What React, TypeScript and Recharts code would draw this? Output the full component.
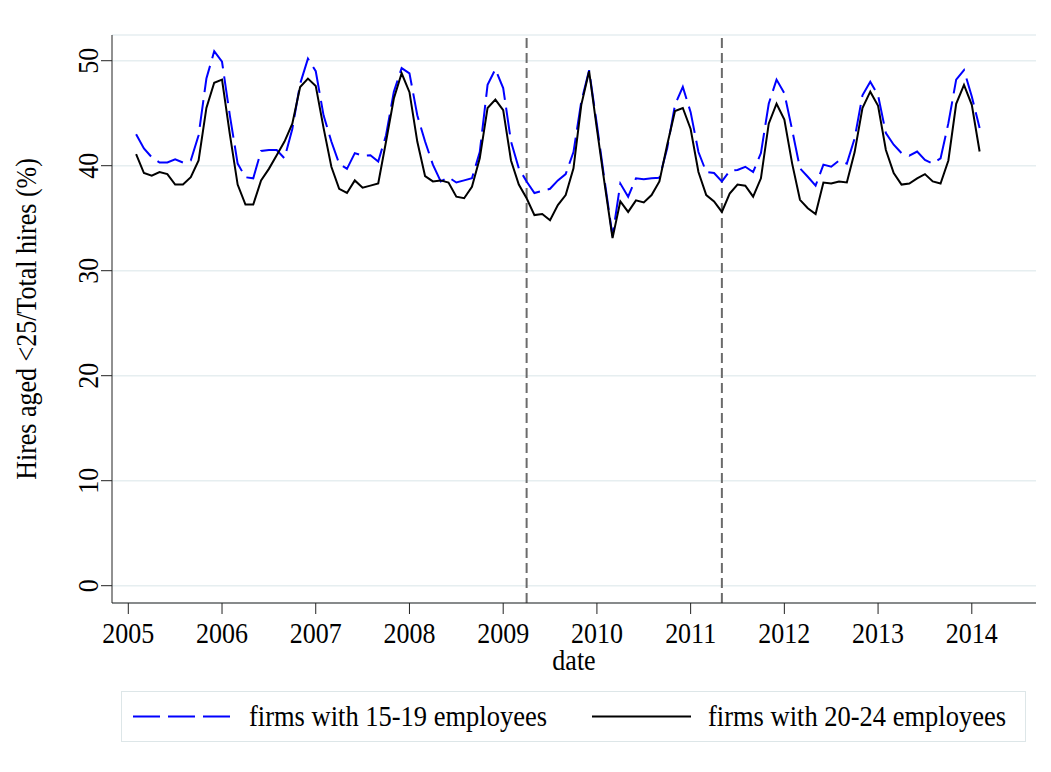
import { LineChart, Line, XAxis, YAxis, CartesianGrid, ReferenceLine, Label } from 'recharts'

// months counted from 2005m1 (= 0); first observation is 2005m2
const firstMonth = 1

// hires aged <25 as % of total hires, monthly 2005m2 - 2014m2
const firms15to19 = [
  43.0, 41.65, 40.8, 40.3, 40.3, 40.6, 40.3, 40.5, 42.9, 48.3, 50.9,
  49.9, 44.8, 40.2, 38.9, 38.8, 41.4, 41.5, 41.5, 40.7, 43.5, 47.8, 50.2,
  49.0, 44.8, 42.3, 40.2, 39.7, 41.2, 40.95, 41.0, 40.4, 42.9, 47.05, 49.3,
  48.8, 44.8, 42.3, 40.1, 38.5, 38.9, 38.4, 38.6, 38.8, 41.3, 47.7, 49.2,
  47.4, 42.3, 39.75, 38.5, 37.4, 37.6, 37.8, 38.6, 39.2, 41.3, 46.1, 49.1,
  43.9, 38.5, 33.3, 38.3, 37.05, 38.8, 38.7, 38.8, 38.85, 41.65, 45.8, 47.5,
  45.1, 41.3, 39.4, 39.3, 38.5, 39.5, 39.6, 39.9, 39.4, 41.2, 45.9, 48.2,
  46.9, 43.4, 39.75, 38.95, 38.1, 40.1, 39.9, 40.5, 40.2, 42.6, 46.7, 48.0,
  46.7, 43.1, 42.0, 41.2, 40.95, 41.35, 40.55, 40.2, 40.7, 44.05, 48.2, 49.1,
  46.6, 43.6,
]

const firms20to24 = [
  41.1, 39.3, 39.05, 39.4, 39.2, 38.2, 38.2, 38.9, 40.5, 45.5, 47.9,
  48.2, 43.0, 38.2, 36.3, 36.3, 38.6, 39.7, 41.0, 42.3, 44.0, 47.5, 48.3,
  47.6, 43.6, 39.9, 37.8, 37.4, 38.6, 37.9, 38.1, 38.3, 42.3, 46.4, 48.8,
  47.0, 42.3, 39.0, 38.5, 38.6, 38.4, 37.05, 36.9, 38.0, 40.7, 45.5, 46.3,
  45.3, 40.5, 38.2, 36.9, 35.3, 35.4, 34.8, 36.25, 37.2, 39.75, 45.8, 49.0,
  43.5, 38.2, 33.1, 36.6, 35.6, 36.7, 36.5, 37.2, 38.5, 42.0, 45.2, 45.5,
  43.5, 39.4, 37.2, 36.6, 35.6, 37.35, 38.2, 38.1, 37.05, 38.8, 44.0, 45.9,
  44.4, 40.2, 36.75, 35.95, 35.4, 38.4, 38.3, 38.5, 38.4, 41.3, 45.5, 47.05,
  45.7, 41.5, 39.3, 38.2, 38.3, 38.8, 39.2, 38.5, 38.3, 40.5, 45.9, 47.7,
  45.8, 41.35,
]

const tickYears = [2005, 2006, 2007, 2008, 2009, 2010, 2011, 2012, 2013, 2014]
const yTicks = [0, 10, 20, 30, 40, 50]
const breakMonths = [51, 76] // 2009m4, 2011m5

const data = firms15to19.map((v, i) => ({
  t: firstMonth + i,
  a: v,
  b: firms20to24[i],
}))

const font = '"Liberation Serif", "Times New Roman", serif'
const stretch = 'scale(1,1.15)'

const XTick = (props: any) => {
  const { x, y, payload } = props
  return (
    <g transform={`translate(${x},${y + 27}) ${stretch}`}>
      <text textAnchor="middle" fontSize={26} fontFamily={font} fill="#000">
        {2005 + payload.value / 12}
      </text>
    </g>
  )
}

const YTick = (props: any) => {
  const { x, y, payload } = props
  return (
    <g transform={`translate(${x - 1},${y}) rotate(-90) ${stretch}`}>
      <text textAnchor="middle" fontSize={26} fontFamily={font} fill="#000">
        {payload.value}
      </text>
    </g>
  )
}

const Legend = () => (
  <svg
    width={905}
    height={51}
    style={{ position: 'absolute', left: 121, top: 691 }}
  >
    <rect x={0.5} y={0.5} width={904} height={50} fill="#fff" stroke="#dde6e8" />
    <line x1={12} x2={111} y1={25.5} y2={25.5} stroke="#0000ff" strokeWidth={2} strokeDasharray="27 8" />
    <g transform={`translate(128,35) ${stretch}`}>
      <text fontSize={26.5} fontFamily={font} fill="#000">firms with 15-19 employees</text>
    </g>
    <line x1={471} x2={570} y1={25.5} y2={25.5} stroke="#000" strokeWidth={2} />
    <g transform={`translate(587,35) ${stretch}`}>
      <text fontSize={26.5} fontFamily={font} fill="#000">firms with 20-24 employees</text>
    </g>
  </svg>
)

export default function App() {
  return (
    <div style={{ position: 'absolute', left: 0, top: 0, width: 1051, height: 772, background: '#fff' }}>
      <LineChart
        width={1051}
        height={772}
        data={data}
        margin={{ top: 35, right: 15, bottom: 109, left: 52 }}
      >
        <CartesianGrid vertical={false} stroke="#e6eef0" strokeWidth={1.5} />
        <XAxis
          dataKey="t"
          type="number"
          domain={[-2.087, 116.22]}
          allowDataOverflow
          ticks={tickYears.map((yr) => (yr - 2005) * 12)}
          tick={<XTick />}
          tickSize={11}
          height={60}
          stroke="#222"
        >
          <Label
            content={() => (
              <g transform={`translate(574,669.5) ${stretch}`}>
                <text textAnchor="middle" fontSize={26} fontFamily={font} fill="#000">date</text>
              </g>
            )}
          />
        </XAxis>
        <YAxis
          type="number"
          domain={[-1.648, 52.448]}
          allowDataOverflow
          ticks={yTicks}
          tick={<YTick />}
          tickSize={11}
          width={60}
          stroke="#222"
        >
          <Label
            content={() => (
              <g transform={`translate(36,319) rotate(-90) ${stretch}`}>
                <text textAnchor="middle" fontSize={26} fontFamily={font} fill="#000">
                  Hires aged &lt;25/Total hires (%)
                </text>
              </g>
            )}
          />
        </YAxis>
        {breakMonths.map((m) => (
          <ReferenceLine key={m} x={m} stroke="#6b6b6b" strokeWidth={2} strokeDasharray="10 5" />
        ))}
        <Line
          type="linear"
          dataKey="a"
          stroke="#0000ff"
          strokeWidth={2}
          strokeDasharray="27 8"
          dot={false}
          isAnimationActive={false}
        />
        <Line
          type="linear"
          dataKey="b"
          stroke="#000"
          strokeWidth={2}
          dot={false}
          isAnimationActive={false}
        />
      </LineChart>
      <Legend />
    </div>
  )
}
